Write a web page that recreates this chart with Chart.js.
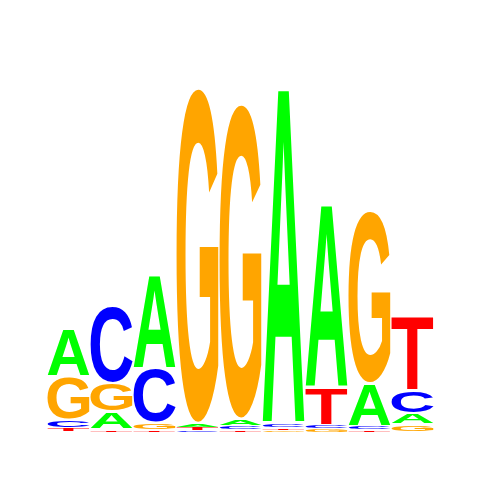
<!DOCTYPE html>
<html>
<head>
<meta charset="utf-8">
<script src="https://cdn.jsdelivr.net/npm/chart.js@4/dist/chart.umd.min.js"></script>
<style>
html,body{margin:0;padding:0;background:#fff;}
#wrap{width:480px;height:480px;position:relative;}
</style>
</head>
<body>
<div id="wrap"><canvas id="c"></canvas></div>
<script>
// Sequence logo data (information content in bits per letter and position)
const positions = ["1","2","3","4","5","6","7","8","9"];
const letters = ["A","C","G","T"];
const bitsA = [0.267,0.099,0.525,0.022,0.042,1.864,1.017,0.236,0.061];
const bitsC = [0.050,0.428,0.303,0.008,0.017,0.019,0.022,0.017,0.128];
const bitsG = [0.239,0.156,0.042,1.864,1.750,0.008,0.017,0.961,0.044];
const bitsT = [0.019,0.014,0.008,0.019,0.014,0.014,0.206,0.014,0.417];
const letterColors = {A:"#00ff00", C:"#0000ff", G:"#ffa500", T:"#ff0000"};

const bitsByLetter = {A:bitsA, C:bitsC, G:bitsG, T:bitsT};

// Build floating ranges: smallest letter at the bottom of each stack
const ranges = {A:[],C:[],G:[],T:[]};
positions.forEach((p, i) => {
  const order = letters.slice().sort((a,b) => bitsByLetter[a][i] - bitsByLetter[b][i]);
  let acc = 0;
  order.forEach(l => {
    const v = bitsByLetter[l][i];
    ranges[l][i] = [acc, acc + v];
    acc += v;
  });
});

const letterPlugin = {
  id: "letters",
  afterDatasetsDraw(chart) {
    const ctx = chart.ctx;
    ctx.save();
    ctx.font = 'bold 200px "Liberation Sans", Arial, sans-serif';
    ctx.textBaseline = "alphabetic";
    ctx.textAlign = "left";
    chart.data.datasets.forEach((ds, di) => {
      const meta = chart.getDatasetMeta(di);
      const letter = ds.label;
      const m = ctx.measureText(letter);
      const gw = m.actualBoundingBoxLeft + m.actualBoundingBoxRight;
      const gh = m.actualBoundingBoxAscent + m.actualBoundingBoxDescent;
      meta.data.forEach(el => {
        const p = el.getProps(["x","y","base","width"], true);
        let top = Math.min(p.y, p.base), bot = Math.max(p.y, p.base);
        const inset = Math.min(1.2, (bot - top) * 0.15);
        top += inset; bot -= inset;
        const h = bot - top;
        if (h <= 0.2) return;
        const w = p.width - 1;
        ctx.save();
        ctx.translate(p.x - w/2, top);
        ctx.scale(w / gw, h / gh);
        ctx.fillStyle = letterColors[letter];
        ctx.fillText(letter, m.actualBoundingBoxLeft, m.actualBoundingBoxAscent);
        ctx.restore();
      });
    });
    ctx.restore();
  }
};

new Chart(document.getElementById("c"), {
  type: "bar",
  data: {
    labels: positions,
    datasets: letters.map(l => ({
      label: l,
      data: ranges[l],
      backgroundColor: "rgba(0,0,0,0)",
      borderWidth: 0,
      grouped: false,
      categoryPercentage: 1.0,
      barPercentage: 1.0
    }))
  },
  options: {
    responsive: true,
    maintainAspectRatio: false,
    animation: false,
    layout: { padding: { left: 47, right: 46, top: 72, bottom: 48 } },
    plugins: { legend: { display: false }, tooltip: { enabled: false } },
    scales: {
      x: { display: false },
      y: { display: false, min: 0, max: 2 }
    }
  },
  plugins: [letterPlugin]
});
</script>
</body>
</html>
